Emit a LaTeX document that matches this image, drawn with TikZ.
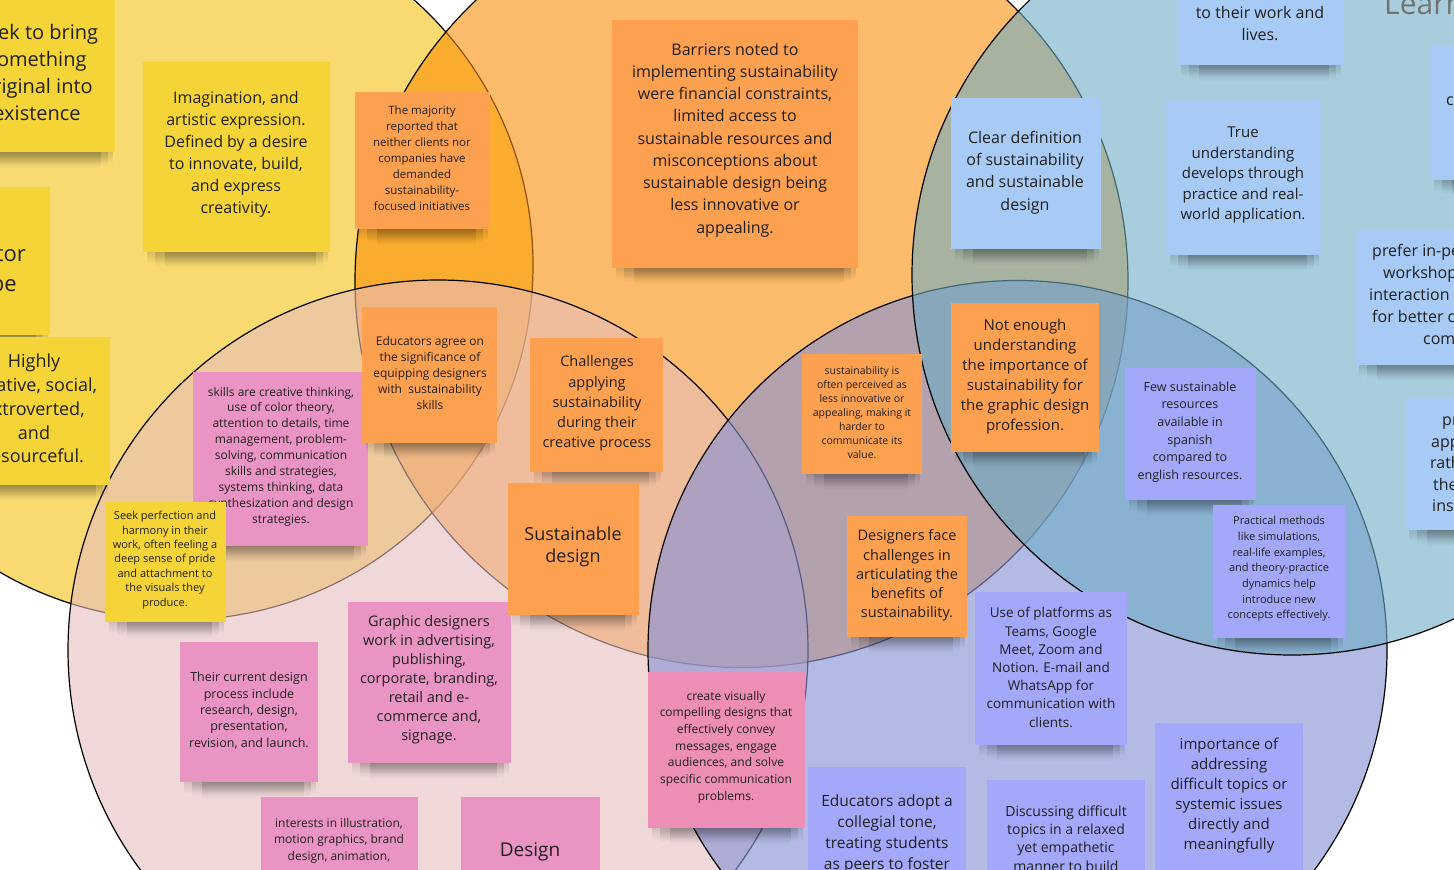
\documentclass[tikz,border=0pt]{standalone}
\usepackage{fontspec}
\setmainfont{Open Sans}
\usetikzlibrary{fadings}
\definecolor{cyel}{RGB}{248,218,112}
\definecolor{cora}{RGB}{252,140,0}
\definecolor{cpink}{RGB}{232,190,190}
\definecolor{cpurp}{RGB}{136,146,213}
\definecolor{cblue}{RGB}{110,172,197}
\definecolor{nyel}{RGB}{245,212,55}
\definecolor{nora}{RGB}{253,160,80}
\definecolor{npink}{RGB}{234,148,196}
\definecolor{npink2}{RGB}{236,142,182}
\definecolor{nblue}{RGB}{168,203,245}
\definecolor{nperi}{RGB}{163,168,250}
\definecolor{txtc}{RGB}{32,32,32}
\tikzfading[name=shfade, top color=transparent!10, bottom color=transparent!100]
\newcommand\fsz[2]{\fontsize{#1pt}{#2pt}\selectfont}
\newcommand\stickynote[5]{%
  \fill[black, path fading=shfade, fill opacity=0.16] ({#1+4},{#4-2}) rectangle ({#3-2},{#4+11});
  \fill[black, path fading=shfade, fill opacity=0.18] ({#1+12},{#4-2}) rectangle ({#3-7},{#4+14});
  \fill[black, path fading=shfade, fill opacity=0.2] ({#1+22},{#4-2}) rectangle ({#3-14},{#4+16});
  \fill[#5] (#1,#2) rectangle (#3,#4);
}
\tikzset{
  circ/.style={draw=black, line width=1.2pt},
  txt/.style={align=center, inner sep=0pt, text=txtc},
  frag/.style={anchor=base west, inner sep=0pt, text=txtc}
}
\begin{document}
\begin{tikzpicture}[x=1pt,y=-1pt]
\useasboundingbox (0,0) rectangle (1454,870);
\clip (0,0) rectangle (1454,870);
\fill[white] (0,0) rectangle (1454,870);
% circles
\draw[circ, fill=cyel] (178,265) circle[radius=355];
\draw[circ, fill=cora, fill opacity=0.58] (741.5,281) circle[radius=386.5];
\draw[circ, fill=cpink, fill opacity=0.6] (438,650) circle[radius=370];
\draw[circ, fill=cpurp, fill opacity=0.63] (1017.5,650) circle[radius=369.5];
\draw[circ, fill=cblue, fill opacity=0.6] (1292,275) circle[radius=380];
% heading fragment
\node[anchor=base west, inner sep=0pt, text=black!55, font=\fsz{30}{36}] (lear) at (1384,14) {Learn};
% yellow notes
\stickynote{-41}{-4}{115}{152}{nyel}
\node[txt, font=\fsz{20}{27}] (y1) at (37,72.5) {Seek to bring\\something\\original into\\existence};
\stickynote{143}{62}{330}{252}{nyel}
\node[txt, font=\fsz{16}{22}] (y2) at (236,154) {Imagination, and\\artistic expression.\\Defined by a desire\\to innovate, build,\\and express\\creativity.};
\stickynote{-100}{187}{50}{335}{nyel}
\node[anchor=base east, inner sep=0pt, text=txtc, font=\fsz{22}{30}] (y3a) at (26,261) {tor};
\node[anchor=base east, inner sep=0pt, text=txtc, font=\fsz{22}{30}] (y3b) at (17,291) {be};
\stickynote{-42}{337}{110}{485}{nyel}
\node[txt, font=\fsz{18}{23.8}] (y4) at (34,408.5) {Highly\\creative, social,\\extroverted,\\and\\resourceful.};
% pink notes
\stickynote{193}{372}{368}{546}{npink}
\node[txt, font=\fsz{12}{15.9}] (p1) at (281,456.5) {skills are creative thinking,\\use of color theory,\\attention to details, time\\management, problem-\\solving, communication\\skills and strategies,\\systems thinking, data\\synthesization and design\\strategies.};
\stickynote{105}{502}{226}{622}{nyel}
\node[txt, font=\fsz{11}{14.4}] (y5) at (165,560) {Seek perfection and\\harmony in their\\work, often feeling a\\deep sense of pride\\and attachment to\\the visuals they\\produce.};
\stickynote{180}{642}{318}{782}{npink}
\node[txt, font=\fsz{12.5}{16.3}] (p2) at (249,710.5) {Their current design\\process include\\research, design,\\presentation,\\revision, and launch.};
\stickynote{348}{602}{511}{763}{npink}
\node[txt, font=\fsz{14.5}{19}] (p3) at (429,680) {Graphic designers\\work in advertising,\\publishing,\\corporate, branding,\\retail and e-\\commerce and,\\signage.};
\stickynote{261}{797}{418}{900}{npink}
\node[txt, font=\fsz{12}{16.5}] (p4) at (339,840.5) {interests in illustration,\\motion graphics, brand\\design, animation,};
\stickynote{461}{797}{600}{900}{npink}
\node[txt, font=\fsz{19}{24}] (p5) at (530,852) {Design};
\stickynote{648}{672}{805}{828}{npink2}
\node[txt, font=\fsz{12}{16.7}] (p6) at (726,747) {create visually\\compelling designs that\\effectively convey\\messages, engage\\audiences, and solve\\specific communication\\problems.};
% orange notes
\stickynote{355}{92}{490}{229}{nora}
\node[txt, font=\fsz{11.5}{16}] (o1) at (422,158) {The majority\\reported that\\neither clients nor\\companies have\\demanded\\sustainability-\\focused initiatives};
\stickynote{612}{20}{858}{268}{nora}
\node[txt, font=\fsz{16}{22.25}] (o2) at (735,140) {Barriers noted to\\implementing sustainability\\were financial constraints,\\limited access to\\sustainable resources and\\misconceptions about\\sustainable design being\\less innovative or\\appealing.};
\stickynote{362}{307}{497}{443}{nora}
\node[txt, font=\fsz{12}{16}] (o3) at (430,373) {Educators agree on\\the significance of\\equipping designers\\with\ \ sustainability\\skills};
\stickynote{530}{338}{663}{472}{nora}
\node[txt, font=\fsz{14.5}{20.25}] (o4) at (597,403.5) {Challenges\\applying\\sustainability\\during their\\creative process};
\stickynote{508}{483}{639}{615}{nora}
\node[txt, font=\fsz{18}{22.5}] (o5) at (573,547) {Sustainable\\design};
\stickynote{802}{354}{922}{474}{nora}
\node[txt, font=\fsz{10.5}{14}] (o6) at (862,413) {sustainability is\\often perceived as\\less innovative or\\appealing, making it\\harder to\\communicate its\\value.};
\stickynote{951}{303}{1099}{452}{nora}
\node[txt, font=\fsz{15}{20}] (o7) at (1025,377) {Not enough\\understanding\\the importance of\\sustainability for\\the graphic design\\profession.};
\stickynote{847}{516}{967}{637}{nora}
\node[txt, font=\fsz{14.5}{19.25}] (o8) at (907,575.5) {Designers face\\challenges in\\articulating the\\benefits of\\sustainability.};
% blue notes
\stickynote{1177}{-60}{1343}{65}{nblue}
\node[txt, font=\fsz{16}{22}] (b1) at (1260,24) {to their work and\\lives.};
\stickynote{951}{98}{1101}{249}{nblue}
\node[txt, font=\fsz{16}{22.3}] (b2) at (1025,172.5) {Clear definition\\of sustainability\\and sustainable\\design};
\stickynote{1166}{100}{1321}{255}{nblue}
\node[txt, font=\fsz{15}{20.5}] (b3) at (1243,175) {True\\understanding\\develops through\\practice and real-\\world application.};
\stickynote{1430}{45}{1600}{180}{nblue}
\node[frag, font=\fsz{16}{22}] (b4) at (1446,105) {c};
\stickynote{1355}{229}{1600}{365}{nblue}
\node[frag, font=\fsz{16}{22}] (b5a) at (1372,256) {prefer in-pe};
\node[frag, font=\fsz{16}{22}] (b5b) at (1383,278) {workshop};
\node[frag, font=\fsz{16}{22}] (b5c) at (1369,300) {interaction};
\node[frag, font=\fsz{16}{22}] (b5d) at (1372,322) {for better c};
\node[frag, font=\fsz{16}{22}] (b5e) at (1423,344) {com};
\stickynote{1405}{397}{1600}{530}{nblue}
\node[frag, font=\fsz{16}{22}] (b6a) at (1442,425) {pr};
\node[frag, font=\fsz{16}{22}] (b6b) at (1431,447) {app};
\node[frag, font=\fsz{16}{22}] (b6c) at (1430,468) {rath};
\node[frag, font=\fsz{16}{22}] (b6d) at (1433,490) {the};
\node[frag, font=\fsz{16}{22}] (b6e) at (1432,511) {ins};
% periwinkle notes
\stickynote{1125}{368}{1256}{500}{nperi}
\node[txt, font=\fsz{12.5}{17.6}] (v1) at (1190,432) {Few sustainable\\resources\\available in\\spanish\\compared to\\english resources.};
\stickynote{1213}{505}{1345}{638}{nperi}
\node[txt, font=\fsz{11}{15.7}] (v2) at (1279,569) {Practical methods\\like simulations,\\real-life examples,\\and theory-practice\\dynamics help\\introduce new\\concepts effectively.};
\stickynote{975}{592}{1127}{745}{nperi}
\node[txt, font=\fsz{13.5}{18.2}] (v3) at (1051,667.5) {Use of platforms as\\Teams, Google\\Meet, Zoom and\\Notion. E-mail and\\WhatsApp for\\communication with\\clients.};
\stickynote{808}{767}{966}{900}{nperi}
\node[txt, font=\fsz{15.5}{21}] (v4) at (887,833.5) {Educators adopt a\\collegial tone,\\treating students\\as peers to foster};
\stickynote{987}{780}{1145}{900}{nperi}
\node[txt, font=\fsz{14}{18.3}] (v5) at (1066,838.5) {Discussing difficult\\topics in a relaxed\\yet empathetic\\manner to build};
\stickynote{1155}{723}{1303}{900}{nperi}
\node[txt, font=\fsz{15}{20}] (v6) at (1229,796) {importance of\\addressing\\difficult topics or\\systemic issues\\directly and\\meaningfully};
\end{tikzpicture}
\end{document}
